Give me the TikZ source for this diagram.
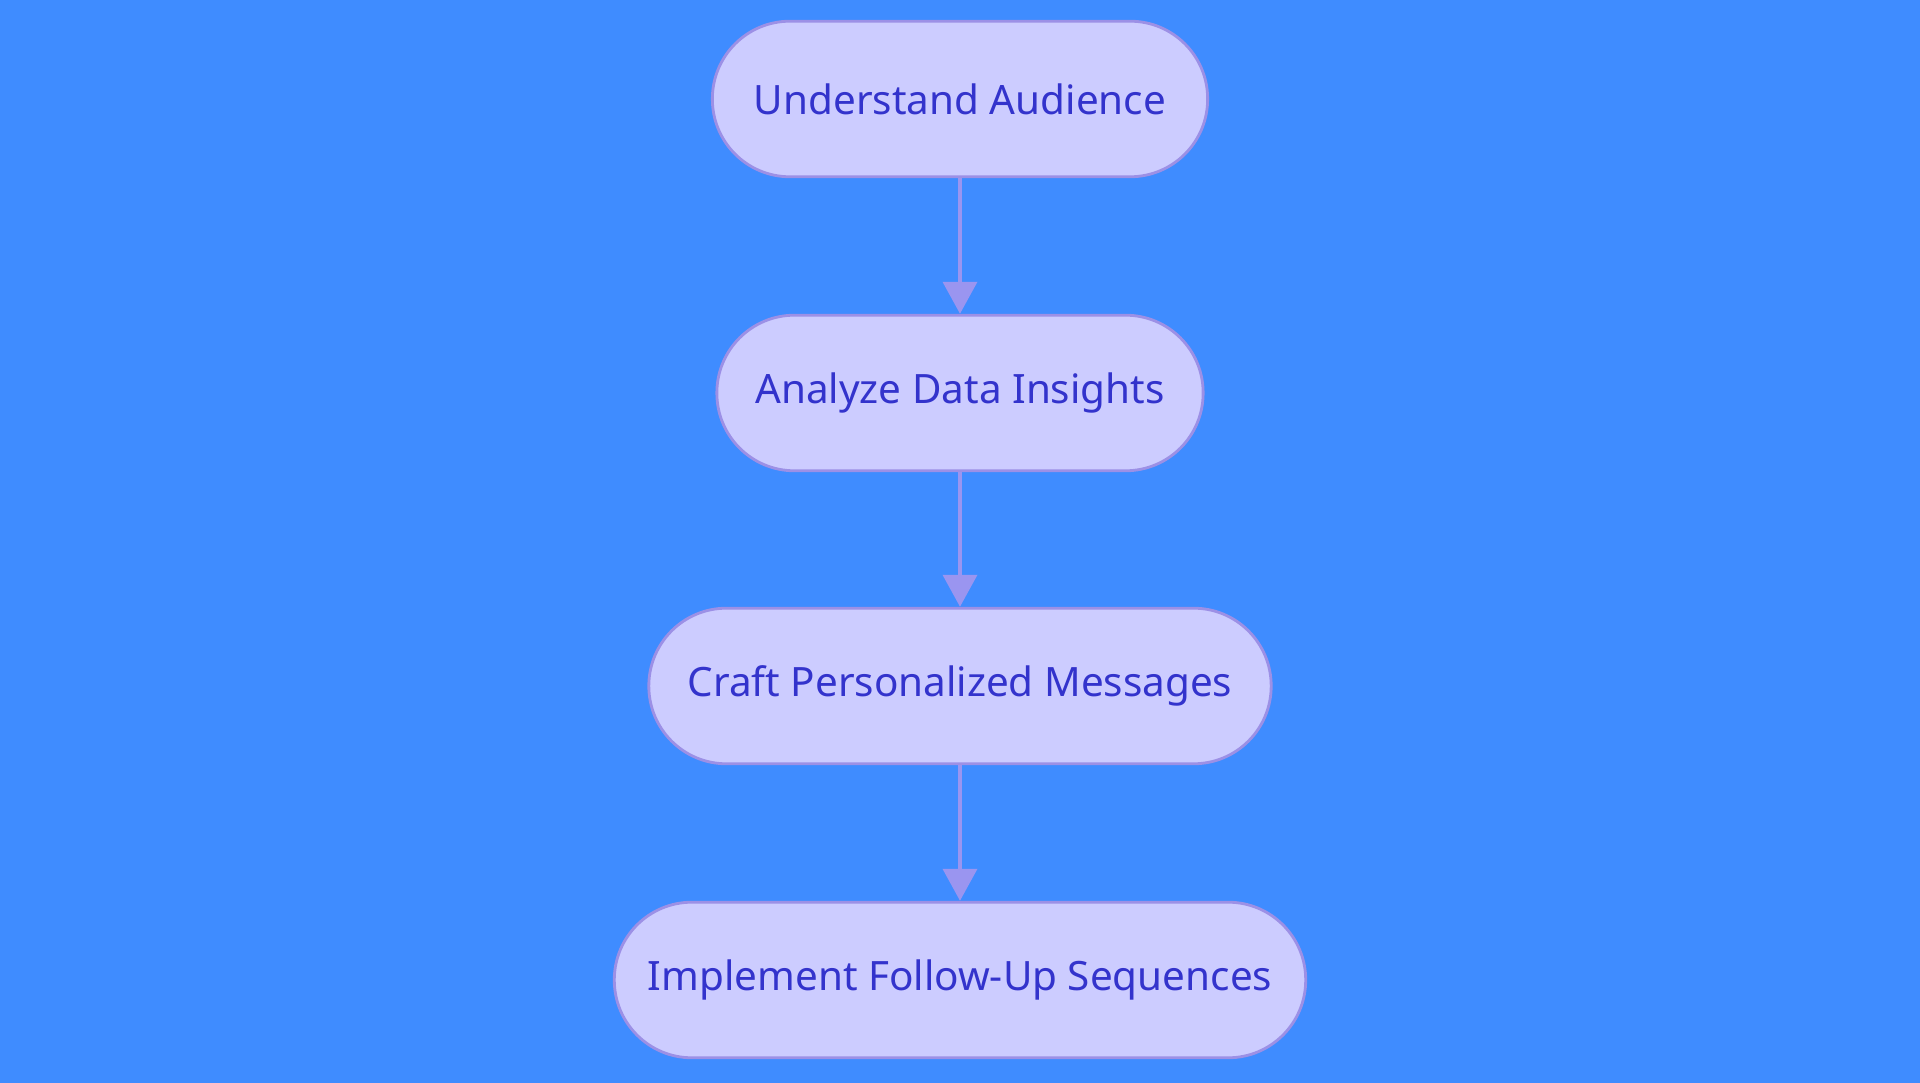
\documentclass[tikz,border=0pt]{standalone}
\usepackage{fontspec}
\setmainfont{Noto Sans}
\usetikzlibrary{arrows.meta}
\definecolor{bg}{HTML}{3F8CFF}
\definecolor{nfill}{HTML}{CCCCFF}
\definecolor{nline}{HTML}{9C90E6}
\definecolor{ntext}{HTML}{3333CC}
\definecolor{aline}{HTML}{9A95F0}
\begin{document}
\begin{tikzpicture}[x=0.01cm,y=-0.01cm,
  box/.style={draw=nline,line width=0.8pt,fill=nfill,rounded corners=0.775cm,minimum height=1.555cm,inner sep=0pt,text=ntext,font=\fontsize{11.5}{13}\selectfont},
  arr/.style={draw=aline,line width=1.1pt,-{Triangle[length=0.32cm,width=0.34cm]}}]
\fill[bg] (0,0) rectangle (1920,1083);
\node[box,minimum width=4.95cm] (a) at (960,99) {Understand Audience};
\node[box,minimum width=4.86cm] (b) at (960,393) {Analyze Data Insights};
\node[box,minimum width=6.22cm] (c) at (960,686) {Craft Personalized Messages};
\node[box,minimum width=6.91cm] (d) at (960,980) {Implement Follow-Up Sequences};
\draw[arr] (a) -- (b);
\draw[arr] (b) -- (c);
\draw[arr] (c) -- (d);
\end{tikzpicture}
\end{document}
